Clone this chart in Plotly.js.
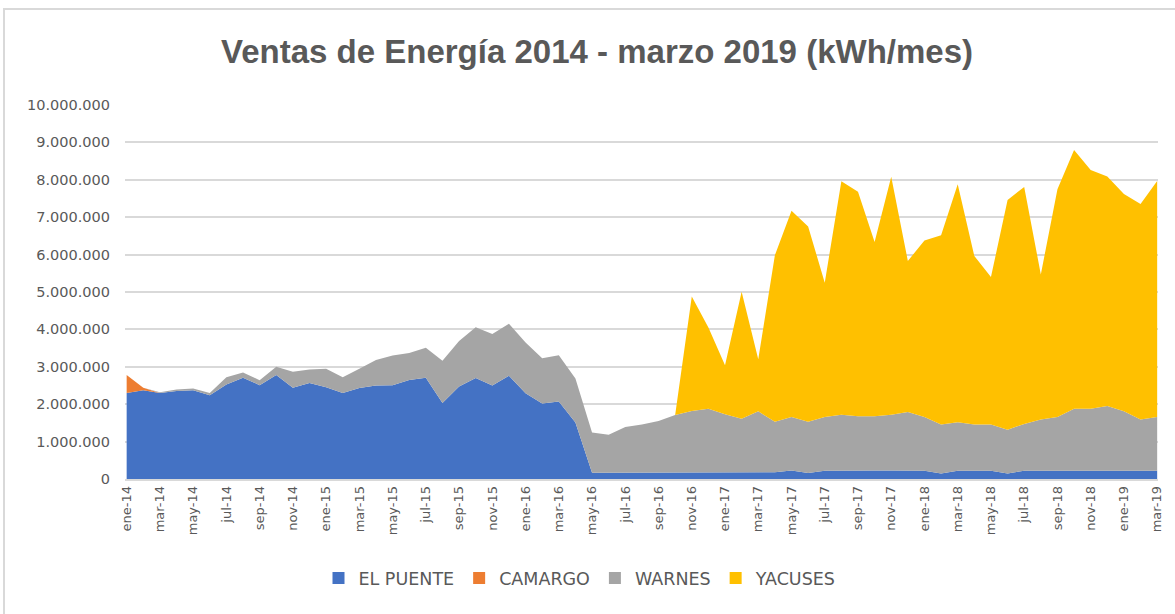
<!DOCTYPE html>
<html>
<head>
<meta charset="utf-8">
<script src="https://cdn.plot.ly/plotly-3.0.1.min.js"></script>
<style>
  html, body { margin: 0; padding: 0; background: #ffffff; }
  #frame { position: absolute; left: 3px; top: 8px; width: 1180px; height: 620px; border: 2px solid #d9d9d9; box-sizing: border-box; }
  #chart { position: absolute; left: 0; top: 0; width: 1175px; height: 614px; }
</style>
</head>
<body>
<div id="frame"></div>
<div id="chart"></div>
<script>
const months = [
  "ene-14","feb-14","mar-14","abr-14","may-14","jun-14","jul-14","ago-14","sep-14","oct-14","nov-14","dic-14",
  "ene-15","feb-15","mar-15","abr-15","may-15","jun-15","jul-15","ago-15","sep-15","oct-15","nov-15","dic-15",
  "ene-16","feb-16","mar-16","abr-16","may-16","jun-16","jul-16","ago-16","sep-16","oct-16","nov-16","dic-16",
  "ene-17","feb-17","mar-17","abr-17","may-17","jun-17","jul-17","ago-17","sep-17","oct-17","nov-17","dic-17",
  "ene-18","feb-18","mar-18","abr-18","may-18","jun-18","jul-18","ago-18","sep-18","oct-18","nov-18","dic-18",
  "ene-19","feb-19","mar-19"
];

const elPuente = [
  2300000,2370000,2300000,2350000,2370000,2240000,2530000,2710000,2510000,2780000,2440000,2570000,
  2450000,2300000,2430000,2500000,2510000,2650000,2710000,2030000,2470000,2700000,2500000,2760000,
  2290000,2020000,2070000,1510000,170000,170000,170000,170000,170000,170000,170000,170000,
  170000,170000,170000,180000,230000,160000,220000,230000,230000,230000,230000,230000,
  220000,150000,220000,220000,220000,150000,220000,220000,220000,220000,220000,220000,
  220000,220000,220000
];

const camargo = [
  480000,70000,0,0,0,0,0,0,0,0,0,0,
  0,0,0,0,0,0,0,0,0,0,0,0,
  0,0,0,0,0,0,0,0,0,0,0,0,
  0,0,0,0,0,0,0,0,0,0,0,0,
  0,0,0,0,0,0,0,0,0,0,0,0,
  0,0,0
];

const warnes = [
  0,0,20000,40000,50000,60000,190000,140000,130000,220000,430000,360000,
  500000,420000,520000,680000,790000,720000,800000,1130000,1220000,1360000,1380000,1390000,
  1360000,1210000,1240000,1180000,1070000,1010000,1220000,1290000,1380000,1540000,1650000,1710000,
  1560000,1440000,1640000,1350000,1430000,1370000,1440000,1490000,1450000,1450000,1490000,1560000,
  1440000,1310000,1300000,1240000,1240000,1170000,1250000,1370000,1440000,1660000,1660000,1730000,
  1590000,1370000,1440000
];

const yacuses = [
  0,0,0,0,0,0,0,0,0,0,0,0,
  0,0,0,0,0,0,0,0,0,0,0,0,
  0,0,0,0,0,0,0,0,0,0,3060000,2170000,
  1310000,3400000,1390000,4450000,5510000,5220000,3590000,6240000,6000000,4660000,6360000,4040000,
  4720000,5060000,6360000,4500000,3940000,6140000,6340000,3880000,6090000,6920000,6380000,6140000,
  5810000,5760000,6310000
];

const seriesNames = ["EL PUENTE","CAMARGO","WARNES","YACUSES"];
const seriesColors = ["#4472c4","#ed7d31","#a5a5a5","#ffc000"];
const seriesValues = [elPuente, camargo, warnes, yacuses];

const yTickVals = [0,1000000,2000000,3000000,4000000,5000000,6000000,7000000,8000000,9000000,10000000];
const yTickText = ["0","1.000.000","2.000.000","3.000.000","4.000.000","5.000.000","6.000.000","7.000.000","8.000.000","9.000.000","10.000.000"];
const xTickVals = months.filter((m, i) => i % 2 === 0);

const areaTraces = seriesNames.map((name, k) => ({
  type: "scatter",
  mode: "lines",
  name: name,
  legendgroup: name,
  showlegend: false,
  x: months,
  y: seriesValues[k],
  stackgroup: "one",
  line: { width: 0, color: seriesColors[k] },
  fillcolor: seriesColors[k],
  hoverinfo: "x+y+name"
}));

const legendTraces = seriesNames.map((name, k) => ({
  type: "scatter",
  mode: "markers",
  name: name,
  legendgroup: name,
  showlegend: true,
  x: [null],
  y: [null],
  marker: { symbol: "square", size: 12, color: seriesColors[k] },
  hoverinfo: "skip"
}));

const layout = {
  width: 1175,
  height: 614,
  margin: { l: 125, r: 17, t: 105, b: 135 },
  paper_bgcolor: "rgba(0,0,0,0)",
  plot_bgcolor: "rgba(0,0,0,0)",
  font: { family: "DejaVu Sans, Liberation Sans, Arial, sans-serif", color: "#595959" },
  title: {
    text: "<b>Ventas de Energía 2014 - marzo 2019 (kWh/mes)</b>",
    font: { family: "Liberation Sans, Arial, sans-serif", size: 33, color: "#595959" },
    x: 597 / 1175, xref: "container", xanchor: "center",
    y: 1 - 51 / 614, yref: "container", yanchor: "middle"
  },
  xaxis: {
    type: "category",
    range: [-0.1, 62.05],
    tickmode: "array",
    tickvals: xTickVals,
    ticktext: xTickVals,
    tickangle: -90,
    tickfont: { family: "DejaVu Sans, sans-serif", size: 13, color: "#595959" },
    showgrid: false,
    showline: true,
    linecolor: "#d9d9d9",
    linewidth: 1.5,
    ticks: "",
    zeroline: false,
    fixedrange: true
  },
  yaxis: {
    range: [0, 10000000],
    tickmode: "array",
    tickvals: yTickVals,
    ticktext: yTickText,
    tickfont: { family: "DejaVu Sans, sans-serif", size: 14.5, color: "#595959" },
    showgrid: true,
    gridcolor: "#d9d9d9",
    gridwidth: 1.5,
    zeroline: false,
    showline: false,
    ticks: "",
    ticklabelstandoff: 14,
    fixedrange: true
  },
  showlegend: true,
  legend: {
    orientation: "h",
    xref: "container", yref: "container",
    x: 580 / 1175, xanchor: "center",
    y: 1 - 578 / 614, yanchor: "middle",
    font: { family: "DejaVu Sans, sans-serif", size: 17.5, color: "#595959" },
    itemwidth: 30,
    traceorder: "normal",
    bgcolor: "rgba(0,0,0,0)"
  },
  hovermode: "x unified"
};

Plotly.newPlot("chart", areaTraces.concat(legendTraces), layout, { displayModeBar: false, responsive: false });
</script>
</body>
</html>
